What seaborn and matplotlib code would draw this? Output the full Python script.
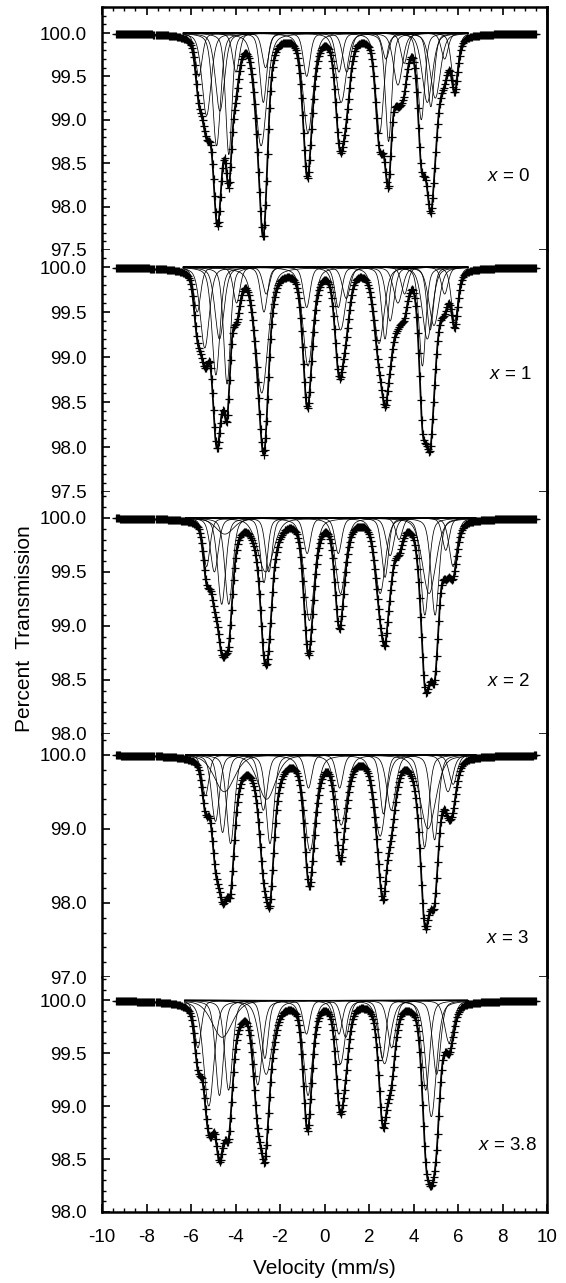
import numpy as np
import pandas as pd
import seaborn as sns
import matplotlib.pyplot as plt
from matplotlib.ticker import MultipleLocator, FormatStrFormatter

sns.set_style("ticks")
plt.rcParams['font.family'] = ['Liberation Sans', 'DejaVu Sans']
plt.rcParams['mathtext.fontset'] = 'custom'
plt.rcParams['mathtext.it'] = 'Liberation Sans:italic'
plt.rcParams['mathtext.rm'] = 'Liberation Sans'
plt.rcParams['axes.unicode_minus'] = False
for key in ['text.color', 'axes.labelcolor', 'xtick.color', 'ytick.color', 'axes.edgecolor']:
    plt.rcParams[key] = 'black'

# --------------------------------------------------------------
# fitted absorption lines: centre (mm/s),
# depth (% absorption) and full width (mm/s), one set per sample
# --------------------------------------------------------------

pos_x0 = [-5.65, -5.30, -4.85, -4.70, -4.30, -3.98, -2.85, -2.75, -2.65, -0.80, -0.74,
          0.65, 0.75, 1.00, 2.48, 2.88, 2.76, 3.30, 3.58, 4.35, 4.62, 4.78, 4.98, 5.40, 5.85]
depth_x0 = [0.50, 0.95, 1.30, 0.90, 1.40, 0.45, 1.30, 0.80, 0.40, 0.50, 1.15,
            0.45, 0.80, 0.45, 1.15, 1.25, 0.30, 0.60, 0.35, 1.00, 0.80, 0.85, 0.75, 0.30, 0.60]
width_x0 = [0.36, 0.48, 0.42, 0.48, 0.34, 0.36, 0.60, 0.36, 0.36, 0.36, 0.54,
            0.36, 0.54, 0.42, 0.42, 0.34, 0.36, 0.48, 0.36, 0.36, 0.54, 0.36, 0.54, 0.36, 0.36]

pos_x1 = [-5.72, -5.38, -4.88, -4.72, -4.38, -3.95, -2.82, -2.72, -2.62, -0.80, -0.74,
          0.62, 0.72, 0.98, 2.45, 2.72, 2.95, 3.30, 3.60, 4.40, 4.62, 4.75, 4.92, 5.40, 5.85]
depth_x1 = [0.50, 0.90, 1.20, 0.80, 1.30, 0.40, 1.40, 0.50, 0.30, 0.45, 1.10,
            0.45, 0.70, 0.35, 0.85, 0.80, 0.60, 0.40, 0.30, 1.10, 0.80, 0.70, 0.65, 0.30, 0.60]
width_x1 = [0.36, 0.48, 0.42, 0.48, 0.36, 0.36, 0.66, 0.36, 0.36, 0.36, 0.54,
            0.36, 0.54, 0.42, 0.54, 0.36, 0.42, 0.48, 0.36, 0.36, 0.54, 0.36, 0.54, 0.36, 0.36]

pos_x2 = [-5.30, -4.95, -4.62, -4.30, -4.48, -2.72, -2.50, -2.65, -0.78, -0.68,
          0.62, 0.72, 2.50, 2.72, 2.95, 3.35, 4.51, 4.70, 4.97, 5.45, 5.78]
depth_x2 = [0.45, 0.50, 0.80, 0.80, 0.15, 0.60, 0.50, 0.50, 0.33, 0.95,
            0.33, 0.70, 0.70, 0.55, 0.35, 0.20, 0.90, 0.70, 0.90, 0.30, 0.45]
width_x2 = [0.36, 0.42, 0.42, 0.42, 0.96, 0.36, 0.36, 0.84, 0.36, 0.54,
            0.36, 0.54, 0.54, 0.36, 0.42, 0.36, 0.42, 0.72, 0.42, 0.36, 0.42]

pos_x3 = [-5.35, -4.90, -4.58, -4.22, -4.50, -2.75, -2.45, -2.60, -0.72, -0.65,
          0.68, 0.75, 2.50, 2.65, 3.00, 4.50, 4.95, 4.65, 5.55, 5.78]
depth_x3 = [0.55, 0.90, 1.05, 1.20, 0.50, 0.75, 1.20, 0.60, 0.45, 1.30,
            0.45, 0.95, 1.10, 0.80, 0.75, 1.25, 1.15, 1.00, 0.50, 0.40]
width_x3 = [0.36, 0.42, 0.42, 0.42, 1.08, 0.42, 0.42, 0.96, 0.36, 0.60,
            0.36, 0.60, 0.60, 0.36, 0.48, 0.42, 0.42, 0.84, 0.48, 0.42]

pos_x38 = [-5.69, -5.20, -4.72, -4.31, -4.60, -3.00, -2.68, -2.62, -0.81, -0.74,
           0.65, 0.72, 0.95, 2.60, 2.70, 3.02, 4.55, 4.80, 5.04, 5.60]
depth_x38 = [0.45, 1.00, 0.90, 0.85, 0.35, 0.80, 0.55, 0.70, 0.32, 0.90,
             0.32, 0.60, 0.35, 0.55, 0.60, 0.45, 0.85, 1.10, 0.70, 0.40]
width_x38 = [0.36, 0.54, 0.42, 0.42, 1.08, 0.48, 0.36, 0.66, 0.36, 0.48,
             0.36, 0.48, 0.42, 0.36, 0.60, 0.42, 0.42, 0.54, 0.42, 0.48]

labels = ["0", "1", "2", "3", "3.8"]
positions = [pos_x0, pos_x1, pos_x2, pos_x3, pos_x38]
depths = [depth_x0, depth_x1, depth_x2, depth_x3, depth_x38]
widths = [width_x0, width_x1, width_x2, width_x3, width_x38]

fit_lo = [-6.35, -6.35, -6.25, -6.25, -6.30]
fit_hi = [6.45, 6.45, 6.80, 6.80, 6.45]

ylims = [(97.5, 100.30), (97.5, 100.19), (98.0, 100.24), (97.0, 100.28), (98.0, 100.22)]
y_major = [0.5, 0.5, 0.5, 1.0, 0.5]
y_minor = [0.1, 0.1, 0.1, 0.2, 0.1]

label_x = [9.24, 9.31, 9.24, 9.19, 9.53]
label_y = [98.35, 98.81, 98.49, 97.52, 98.63]

# velocity channels of the spectrometer
vel = np.linspace(-9.35, 9.50, 420)


def absorption(v, p, d, w, eta=0.4):
    # pseudo-Voigt line: eta Lorentzian + (1 - eta) Gaussian, same FWHM
    u = 2.0 * (v - p) / w
    return d * (eta / (1.0 + u ** 2) + (1 - eta) * np.exp(-np.log(2) * u ** 2))


# panel edges in pixels from the top of the 566x1283 figure
edges = [7, 250, 492, 734, 977, 1212]
W, H = 566, 1283
ax_left, ax_right = 102, 547

fig = plt.figure(figsize=(W / 100, H / 100), dpi=100)

for k in range(5):
    top, bot = edges[k], edges[k + 1]
    ax = fig.add_axes([ax_left / W, 1 - bot / H, (ax_right - ax_left) / W, (bot - top) / H])

    p, d, w = positions[k], depths[k], widths[k]
    v_fit = np.linspace(fit_lo[k], fit_hi[k], 900)

    comp = pd.concat([
        pd.DataFrame({"v": v_fit, "T": 100 - absorption(v_fit, p[i], d[i], w[i]), "line": i})
        for i in range(len(p))
    ])
    total_fit = 100 - sum(absorption(v_fit, p[i], d[i], w[i]) for i in range(len(p)))
    total_data = 100 - sum(absorption(vel, p[i], d[i], w[i]) for i in range(len(p)))

    sns.lineplot(data=comp, x="v", y="T", units="line", estimator=None,
                 color="k", lw=0.55, ax=ax, legend=False)
    sns.lineplot(x=v_fit, y=total_fit, color="k", lw=1.3, ax=ax)
    sns.scatterplot(x=vel, y=total_data, marker="+", s=40, color="k",
                    linewidth=0.9, ax=ax, zorder=3)

    ax.set_xlim(-10, 10)
    ax.set_ylim(*ylims[k])
    ax.set_xlabel("")
    ax.set_ylabel("")

    ax.yaxis.set_major_locator(MultipleLocator(y_major[k]))
    ax.yaxis.set_minor_locator(MultipleLocator(y_minor[k]))
    ax.yaxis.set_major_formatter(FormatStrFormatter("%.1f"))
    ax.tick_params(axis="y", which="major", direction="in", length=6, width=1.2,
                   labelsize=13.5, pad=11, right=False)
    ax.tick_params(axis="y", which="minor", direction="in", length=3, width=1.0, right=False)

    ax.xaxis.set_major_locator(MultipleLocator(2))
    ax.xaxis.set_minor_locator(MultipleLocator(0.5))
    ax.xaxis.set_major_formatter(FormatStrFormatter("%d"))
    ax.tick_params(axis="x", which="major", direction="in", length=6, width=1.2,
                   labelsize=13.5, pad=12)
    ax.tick_params(axis="x", which="minor", direction="in", length=3, width=1.0)
    if k == 0:
        ax.tick_params(axis="x", which="both", top=True, bottom=False, labelbottom=False)
    elif k == 4:
        ax.tick_params(axis="x", which="both", top=False, bottom=True)
    else:
        ax.tick_params(axis="x", which="both", top=False, bottom=False, labelbottom=False)

    for side in ["left", "right", "top", "bottom"]:
        ax.spines[side].set_linewidth(1.8)
    ax.spines["top"].set_visible(k == 0)
    ax.spines["bottom"].set_visible(k == 4)

    if k < 4:
        sec = ax.secondary_yaxis("right")
        sec.set_yticks([ylims[k][0]])
        sec.tick_params(direction="in", length=6, width=1.2, labelright=False)
        sec.spines["right"].set_linewidth(1.8)

    ax.text(label_x[k], label_y[k], "$x$ = " + labels[k], ha="right", va="center",
            fontsize=13.5)

fig.text(0.044, 1 - 629 / H, "Percent  Transmission", rotation=90,
         ha="center", va="center", fontsize=15)
fig.text((ax_left + ax_right) / 2 / W, 1 - 1268 / H, "Velocity (mm/s)",
         ha="center", va="center", fontsize=15)

fig.savefig("out.png", dpi=100)
